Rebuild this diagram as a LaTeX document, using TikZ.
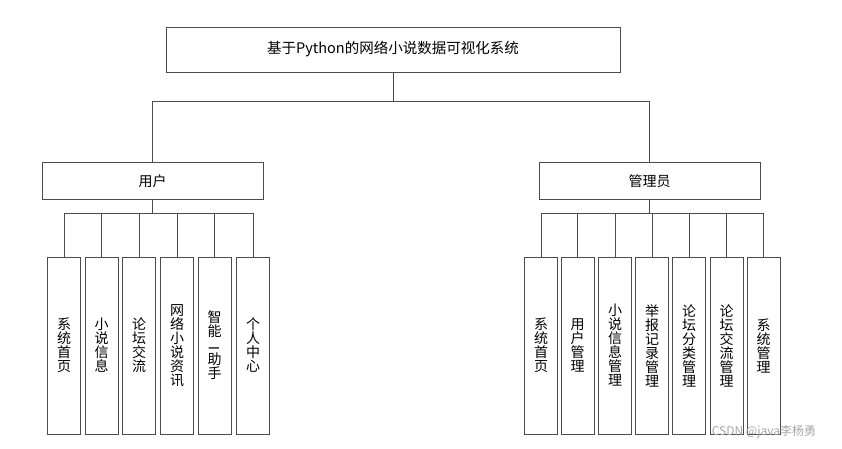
\documentclass[tikz,border=0pt]{standalone}
\usepackage{fontspec}
\newfontfamily\cjk{Noto Sans CJK SC}
\usetikzlibrary{positioning}

\begin{document}
\begin{tikzpicture}[
    x=1pt, y=-1pt,
    title/.style={rectangle, draw=black!70, line width=1pt, minimum width=454pt, minimum height=45pt, font=\cjk\fontsize{14.5}{16}\selectfont, inner sep=0pt},
    role/.style={rectangle, draw=black!70, line width=1pt, minimum width=221pt, minimum height=37pt, font=\cjk\fontsize{14}{16}\selectfont, inner sep=0pt},
    leaf/.style={rectangle, draw=black!70, line width=1pt, minimum width=33pt, minimum height=177pt, font=\cjk\fontsize{14}{14}\selectfont, align=center, inner sep=0pt},
    link/.style={draw=black!70, line width=1pt}
]
    \useasboundingbox (0,0) rectangle (842,448);

    % Top
    \node[title] (system) at (393, 49.5) {基于Python的网络小说数据可视化系统};
    \node[role] (user) at (152.5, 181) {用户};
    \node[role] (admin) at (649.5, 181) {管理员};
    \draw[link] (system.south) -- ++(0,29) -| (user.north);
    \draw[link] (system.south) -- ++(0,29) -| (admin.north);

    % User
    \node[leaf] (u1) at (64, 345.5) {系\\统\\首\\页};
    \node[leaf] (u2) at (101.5, 345.5) {小\\说\\信\\息};
    \node[leaf] (u3) at (139, 345.5) {论\\坛\\交\\流};
    \node[leaf] (u4) at (177, 345.5) {网\\络\\小\\说\\资\\讯};
    \node[leaf] (u5) at (214.5, 345.5) {智\\能\\\rotatebox{90}{I}\\助\\手};
    \node[leaf] (u6) at (253, 345.5) {个\\人\\中\\心};
    \draw[link] (user.south) -- ++(0,13) -| (u1.north);
    \draw[link] (user.south) -- ++(0,13) -| (u2.north);
    \draw[link] (user.south) -- ++(0,13) -| (u3.north);
    \draw[link] (user.south) -- ++(0,13) -| (u4.north);
    \draw[link] (user.south) -- ++(0,13) -| (u5.north);
    \draw[link] (user.south) -- ++(0,13) -| (u6.north);

    % Admin
    \node[leaf] (a1) at (541, 345.5) {系\\统\\首\\页};
    \node[leaf] (a2) at (577.5, 345.5) {用\\户\\管\\理};
    \node[leaf] (a3) at (615, 345.5) {小\\说\\信\\息\\管\\理};
    \node[leaf] (a4) at (652, 345.5) {举\\报\\记\\录\\管\\理};
    \node[leaf] (a5) at (689, 345.5) {论\\坛\\分\\类\\管\\理};
    \node[leaf] (a6) at (726.5, 345.5) {论\\坛\\交\\流\\管\\理};
    \node[leaf] (a7) at (763.5, 345.5) {系\\统\\管\\理};
    \draw[link] (admin.south) -- ++(0,13) -| (a1.north);
    \draw[link] (admin.south) -- ++(0,13) -| (a2.north);
    \draw[link] (admin.south) -- ++(0,13) -| (a3.north);
    \draw[link] (admin.south) -- ++(0,13) -| (a4.north);
    \draw[link] (admin.south) -- ++(0,13) -| (a5.north);
    \draw[link] (admin.south) -- ++(0,13) -| (a6.north);
    \draw[link] (admin.south) -- ++(0,13) -| (a7.north);

    % Watermark
    \node[font=\cjk\fontsize{12}{14}\selectfont, text=black!35] (mark) at (764, 432) {CSDN @java李杨勇};

\end{tikzpicture}
\end{document}
